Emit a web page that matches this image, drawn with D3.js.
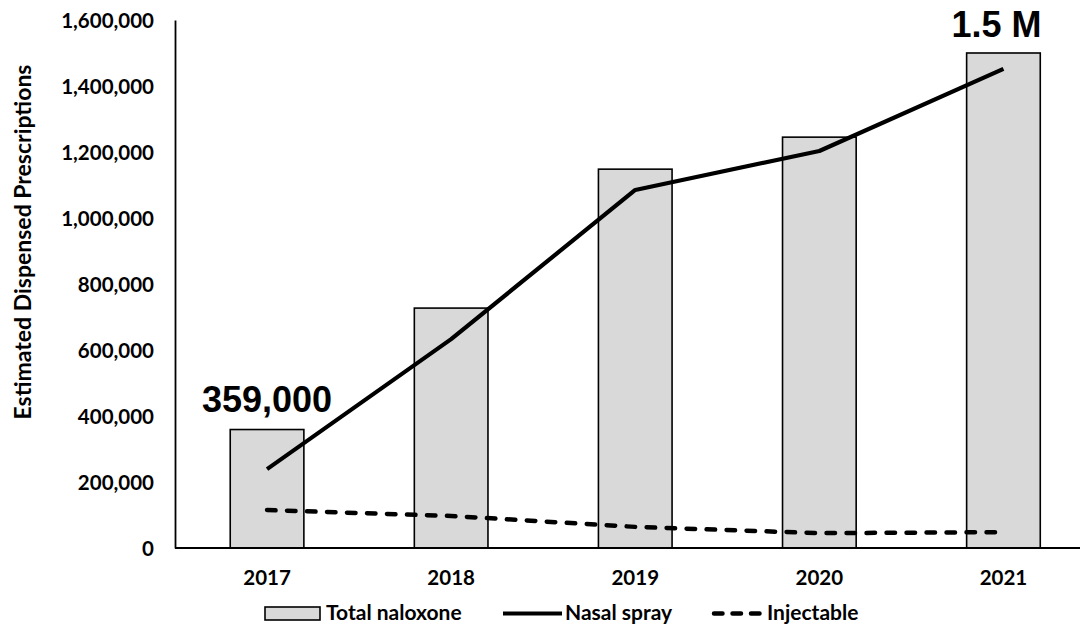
<!DOCTYPE html>
<html>
<head>
<meta charset="utf-8">
<script src="https://cdn.jsdelivr.net/npm/d3@7"></script>
<style>
  html, body { margin: 0; padding: 0; background: #fff; }
  svg { display: block; }
  text { font-family: Lato, "Open Sans", sans-serif; font-weight: 700; fill: #000; }
</style>
</head>
<body>
<script>
// Naloxone dispensing by year
const years = ["2017", "2018", "2019", "2020", "2021"];
const totalNaloxone = [359000, 727000, 1148000, 1245000, 1500000];
const nasalSpray = [239000, 633000, 1085000, 1203000, 1452000];
const injectable = [115000, 97000, 64000, 45000, 48000];
const yTicks = [0, 200000, 400000, 600000, 800000, 1000000, 1200000, 1400000, 1600000];
const calloutLabels = [{ year: "2017", text: "359,000", value: 359000 },
                       { year: "2021", text: "1.5 M", value: 1500000 }];
const legendItems = ["Total naloxone", "Nasal spray", "Injectable"];

const W = 1080, H = 625;
const svg = d3.select("body").append("svg").attr("width", W).attr("height", H);

const x = d3.scaleBand().domain(years).range([175, 1095.5])
  .paddingInner(0.6).paddingOuter(0.3);
const y = d3.scaleLinear().domain([0, 1600000]).range([548, 20]);

// Bars: total naloxone
svg.append("g").selectAll("rect").data(years).join("rect")
  .attr("x", d => x(d))
  .attr("y", (d, i) => y(totalNaloxone[i]))
  .attr("width", x.bandwidth())
  .attr("height", (d, i) => y(0) - y(totalNaloxone[i]))
  .attr("fill", "#d9d9d9")
  .attr("stroke", "#000")
  .attr("stroke-width", 1.6);

const cx = d => x(d) + x.bandwidth() / 2;

// Nasal spray line
svg.append("path")
  .datum(years.map((d, i) => [cx(d), y(nasalSpray[i])]))
  .attr("d", d3.line())
  .attr("fill", "none").attr("stroke", "#000")
  .attr("stroke-width", 4.2).attr("stroke-linejoin", "round");

// Injectable line
svg.append("path")
  .datum(years.map((d, i) => [cx(d), y(injectable[i])]))
  .attr("d", d3.line())
  .attr("fill", "none").attr("stroke", "#000")
  .attr("stroke-width", 4.5).attr("stroke-linecap", "round")
  .attr("stroke-dasharray", "8.5,11.5");

// Y axis
const yAxis = svg.append("g").attr("transform", "translate(175,0)")
  .call(d3.axisLeft(y).tickValues(yTicks).tickSize(0).tickPadding(21)
    .tickFormat(d3.format(",")));
yAxis.select(".domain").attr("stroke", "#000").attr("stroke-width", 1.8);
yAxis.selectAll("text").style("font-size", "20.5px").attr("dy", "0.36em");

// X axis
const xAxis = svg.append("g").attr("transform", "translate(0,548)")
  .call(d3.axisBottom(x).tickSize(0).tickPadding(22));
xAxis.select(".domain").attr("d", "M175,0H1080").attr("stroke", "#000").attr("stroke-width", 1.8);
xAxis.selectAll("text").style("font-size", "20.5px");

// Y axis title
svg.append("text")
  .attr("transform", "translate(31,242) rotate(-90)")
  .attr("text-anchor", "middle")
  .style("font-size", "23px")
  .text("Estimated Dispensed Prescriptions");

// Callout values
svg.append("g").selectAll("text").data(calloutLabels).join("text")
  .attr("x", d => cx(d.year) + (d.year === "2021" ? -7 : 0))
  .attr("y", d => y(d.value) - (d.year === "2021" ? 16 : 18))
  .attr("text-anchor", "middle")
  .style("font-family", "'Liberation Sans', Arial, sans-serif")
  .style("font-size", "36px")
  .text(d => d.text);

// Legend
const legend = svg.append("g");
const ly = 613.5;
const lg = [
  { x: 265, tx: 326 },
  { x: 503, tx: 565 },
  { x: 712, tx: 767 }
];
legend.append("rect").attr("x", lg[0].x).attr("y", ly - 6.5).attr("width", 55).attr("height", 13)
  .attr("fill", "#d9d9d9").attr("stroke", "#000").attr("stroke-width", 1.6);
legend.append("line").attr("x1", lg[1].x).attr("x2", 562).attr("y1", ly).attr("y2", ly)
  .attr("stroke", "#000").attr("stroke-width", 4.2);
legend.append("line").attr("x1", lg[2].x + 2).attr("x2", 762).attr("y1", ly).attr("y2", ly)
  .attr("stroke", "#000").attr("stroke-width", 4.5).attr("stroke-linecap", "round")
  .attr("stroke-dasharray", "8.5,10");
legend.selectAll("text").data(legendItems).join("text")
  .attr("x", (d, i) => lg[i].tx).attr("y", ly + 6.5)
  .style("font-size", "21px")
  .text(d => d);
</script>
</body>
</html>
